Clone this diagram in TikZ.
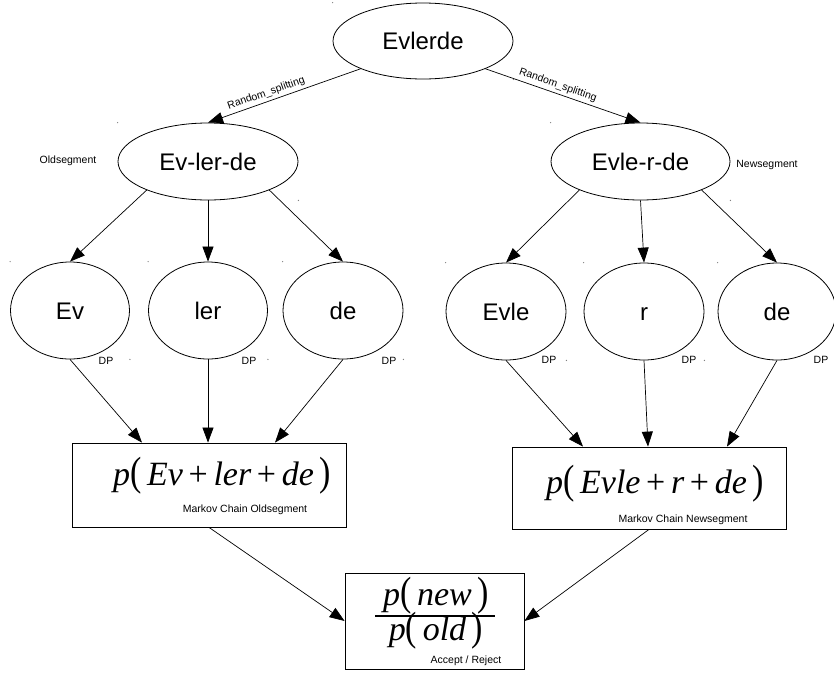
\documentclass[tikz,border=0pt]{standalone}
\usepackage{fontspec}
\usepackage{graphicx}
\setmainfont{Liberation Sans}
\newfontfamily\mfont{Liberation Serif}
\usetikzlibrary{shapes.geometric,arrows.meta,calc}
\newcommand{\lpar}{\scalebox{1}[1.2]{\upshape(}}
\newcommand{\rpar}{\scalebox{1}[1.2]{\upshape)}}
\newcommand{\pls}{\,\textup{+}\,}
\begin{document}
\begin{tikzpicture}[x=1pt,y=-1pt,
 ell/.style={draw, ellipse, line width=0.8pt, inner sep=0pt, text height=17.2pt, text depth=0pt, font=\fontsize{24}{28}\selectfont},
 boxnode/.style={draw, rectangle, line width=0.8pt, inner sep=0pt},
 small/.style={font=\fontsize{10.5}{12}\selectfont, inner sep=1pt},
 arr/.style={-{Triangle[length=15pt,width=11pt]}, line width=0.7pt},
 formula/.style={font=\mfont\itshape\fontsize{34}{40}\selectfont, inner sep=0pt, anchor=base},
 ]
\useasboundingbox (0,0) rectangle (834,675);

% top
\node[ell, minimum width=180pt, minimum height=76pt] (top) at (423,41) {Evlerde};
\node[ell, minimum width=180pt, minimum height=77pt] (oldp) at (208,161.5) {Ev-ler-de};
\node[ell, minimum width=179pt, minimum height=77pt] (newp) at (640.5,161.5) {Evle-r-de};
\node[small] (oldlab) at (68,161) {Oldsegment};
\node[small] (newlab) at (767,165) {Newsegment};

% circles
\node[ell, minimum width=119pt, minimum height=97pt] (ev) at (70,310.5) {Ev};
\node[ell, minimum width=119pt, minimum height=97pt] (ler) at (208,310.5) {ler};
\node[ell, minimum width=120pt, minimum height=97pt] (de) at (343,310.5) {de};
\node[ell, minimum width=120pt, minimum height=97pt] (evle) at (506,311.5) {Evle};
\node[ell, minimum width=120pt, minimum height=97pt] (r) at (644,311.5) {r};
\node[ell, minimum width=118pt, minimum height=97pt] (de2) at (777,311.5) {de};

\node[small] (dp1) at (106,361) {DP};
\node[small] (dp2) at (249,361) {DP};
\node[small] (dp3) at (389,361) {DP};
\node[small] (dp4) at (549,360) {DP};
\node[small] (dp5) at (689,360) {DP};
\node[small] (dp6) at (821,360) {DP};

% boxes
\node[boxnode, minimum width=274pt, minimum height=84pt] (oldbox) at (209,485) {};
\node[boxnode, minimum width=274pt, minimum height=82pt] (newbox) at (649,488) {};
\node[boxnode, minimum width=179pt, minimum height=96pt] (bot) at (434.5,621) {};

\node[formula] (fold) at (222,485) {p\lpar\,Ev\pls ler\pls de\,\rpar};
\node[formula] (fnew) at (655,493) {p\lpar\,Evle\pls r\pls de\,\rpar};
\node[small] (mco) at (245,510) {Markov Chain Oldsegment};
\node[small] (mcn) at (683,520) {Markov Chain Newsegment};

\node[formula] (num) at (436,605) {p\lpar\,new\,\rpar};
\node[formula] (den) at (436,640) {p\lpar\,old\,\rpar};
\coordinate (barl) at (375,616);
\coordinate (barr) at (495,616);
\draw[line width=2.5pt] (barl) -- (barr);
\node[small] (acc) at (466,661) {Accept / Reject};

% edges
\draw[arr] (top.204) -- node[small, pos=0.6, above, sloped, inner sep=3pt] {Random\_splitting} (oldp.north);
\draw[arr] (top.336) -- node[small, pos=0.45, above, sloped, inner sep=3pt] {Random\_splitting} (newp.north);

\draw[arr] (oldp.205) -- (ev.north);
\draw[arr] (oldp.south) -- (ler.north);
\draw[arr] (oldp.335) -- (de.north);
\draw[arr] (newp.205) -- (evle.north);
\draw[arr] (newp.south) -- (r.north);
\draw[arr] (newp.335) -- (de2.north);

\draw[arr] (ev.south) -- ($(oldbox.north)+(-67,0)$);
\draw[arr] (ler.south) -- ($(oldbox.north)+(-1,0)$);
\draw[arr] (de.south) -- ($(oldbox.north)+(66,0)$);
\draw[arr] (evle.south) -- ($(newbox.north)+(-66,0)$);
\draw[arr] (r.south) -- ($(newbox.north)+(-1,0)$);
\draw[arr] (de2.south) -- ($(newbox.north)+(78,0)$);

\draw[arr] (oldbox.south) -- (bot.west);
\draw[arr] (newbox.south) -- (bot.east);

% tiny corner marks
\foreach \n in {top,oldp,newp,ev,ler,de,evle,r,de2} {
  \fill[gray] (\n.west |- \n.north) circle[radius=0.7pt];
  \fill[gray] (\n.east |- \n.south) circle[radius=0.7pt];
}
\end{tikzpicture}
\end{document}
